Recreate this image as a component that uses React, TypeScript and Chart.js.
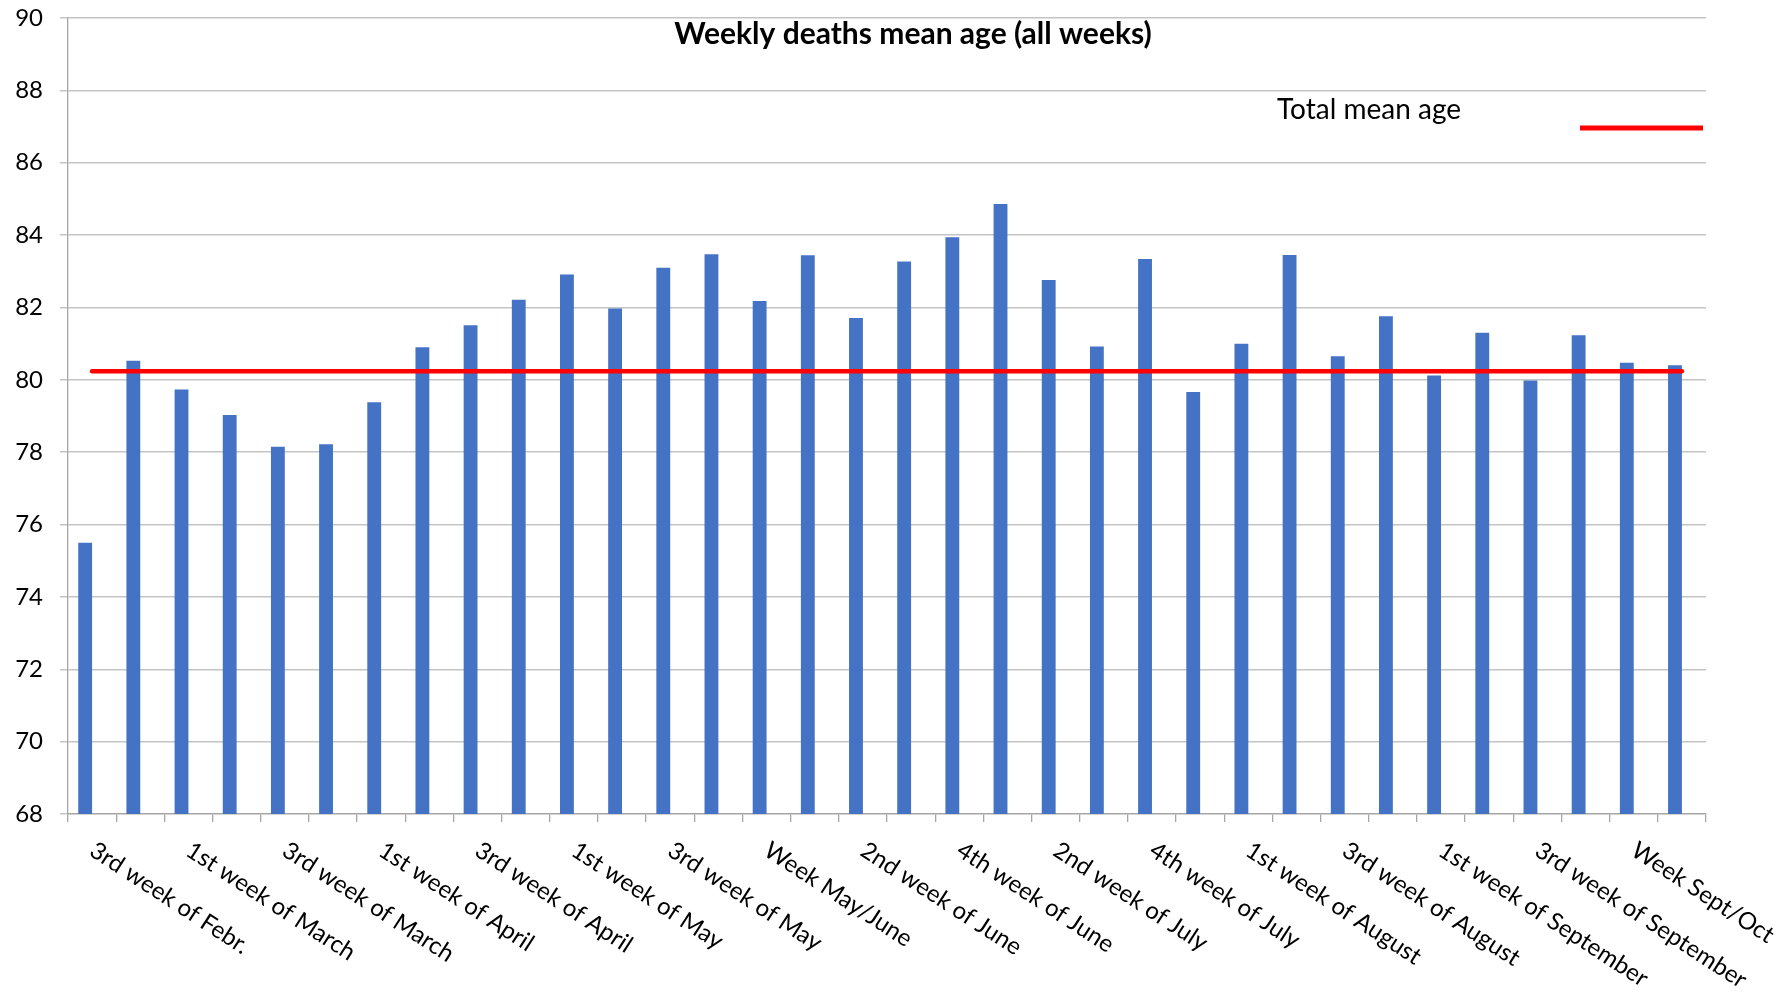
import { useEffect, useRef } from 'react';
import { Chart, registerables } from 'chart.js';

Chart.register(...registerables);

const TITLE = 'Weekly deaths mean age (all weeks)';
const LEGEND_LABEL = 'Total mean age';

const categories = [
  '3rd week of Febr.', '4th week of Febr.', '1st week of March', '2nd week of March',
  '3rd week of March', '4th week of March', '1st week of April', '2nd week of April',
  '3rd week of April', '4th week of April', '1st week of May', '2nd week of May',
  '3rd week of May', '4th week of May', 'Week May/June', '1st week of June',
  '2nd week of June', '3rd week of June', '4th week of June', '1st week of July',
  '2nd week of July', '3rd week of July', '4th week of July', '5th week of July',
  '1st week of August', '2nd week of August', '3rd week of August', '4th week of August',
  '1st week of September', '2nd week of September', '3rd week of September', '4th week of September',
  'Week Sept/Oct', '1st week of October',
];

const meanAge = [
  75.5, 80.53, 79.73, 79.03, 78.15, 78.22, 79.38, 80.9, 81.51, 82.21,
  82.91, 81.97, 83.1, 83.47, 82.18, 83.44, 81.71, 83.27, 83.94, 84.86,
  82.76, 80.92, 83.34, 79.66, 81.0, 83.45, 80.65, 81.76, 80.12, 81.3,
  79.98, 81.23, 80.47, 80.4,
];

const totalMeanAge = [
  80.24, 80.24, 80.24, 80.24, 80.24, 80.24, 80.24, 80.24, 80.24, 80.24,
  80.24, 80.24, 80.24, 80.24, 80.24, 80.24, 80.24, 80.24, 80.24, 80.24,
  80.24, 80.24, 80.24, 80.24, 80.24, 80.24, 80.24, 80.24, 80.24, 80.24,
  80.24, 80.24, 80.24, 80.24,
];

const emptySeries = categories.map(() => null);

const Y_MIN = 68;
const Y_MAX = 90;
const Y_STEP = 2;

const FONT = 'Lato, "Open Sans", sans-serif';
const LABEL_SIZE = 24;
const TICK_SIZE = 24;
const TITLE_SIZE = 30;
const LEGEND_SIZE = 28;
const LABEL_ANGLE = 33;

const overlayPlugin = {
  id: 'overlay',
  afterDraw(chart: any) {
    const ctx = chart.ctx as CanvasRenderingContext2D;
    const xs = chart.scales.x;
    const area = chart.chartArea;
    ctx.save();
    // category labels (every other week)
    ctx.fillStyle = '#000';
    ctx.font = `${LABEL_SIZE}px ${FONT}`;
    ctx.textAlign = 'left';
    ctx.textBaseline = 'middle';
    categories.forEach((label, i) => {
      if (i % 2 !== 0) return;
      const px = xs.getPixelForValue(i);
      ctx.save();
      ctx.translate(px, area.bottom + 34);
      ctx.rotate((LABEL_ANGLE * Math.PI) / 180);
      ctx.fillText(label, 0, 0);
      ctx.restore();
    });
    // title
    ctx.font = `bold ${TITLE_SIZE}px ${FONT}`;
    ctx.textAlign = 'center';
    ctx.textBaseline = 'alphabetic';
    ctx.fillText(TITLE, chart.width / 2 + 21, 44);
    // legend
    ctx.font = `${LEGEND_SIZE}px ${FONT}`;
    ctx.textAlign = 'left';
    ctx.fillText(LEGEND_LABEL, area.right - 429, 118.5);
    ctx.strokeStyle = '#FF0000';
    ctx.lineWidth = 5;
    ctx.lineCap = 'butt';
    ctx.beginPath();
    ctx.moveTo(area.right - 126, 128);
    ctx.lineTo(area.right - 3, 128);
    ctx.stroke();
    ctx.restore();
  },
};

export default function App() {
  const ref = useRef<HTMLCanvasElement | null>(null);
  useEffect(() => {
    if (!ref.current) return;
    const chart = new Chart(ref.current, {
      type: 'bar',
      data: {
        labels: categories,
        datasets: [
          {
            type: 'bar',
            label: 'Mean age',
            data: meanAge,
            backgroundColor: '#4472C4',
            borderWidth: 0,
            categoryPercentage: 0.575,
            barPercentage: 1,
            order: 1,
          },
          {
            type: 'bar',
            label: '',
            data: emptySeries,
            backgroundColor: 'rgba(0,0,0,0)',
            categoryPercentage: 0.575,
            barPercentage: 1,
            order: 1,
          },
          {
            type: 'line',
            label: LEGEND_LABEL,
            data: totalMeanAge,
            borderColor: '#FF0000',
            borderWidth: 4.5,
            borderCapStyle: 'round',
            pointRadius: 0,
            fill: false,
            order: 0,
          },
        ],
      } as any,
      options: {
        animation: false,
        responsive: true,
        maintainAspectRatio: false,
        layout: { padding: { left: 0, top: 18, right: 78, bottom: 175 } },
        plugins: {
          legend: { display: false },
          title: { display: false },
          tooltip: { enabled: false },
        },
        scales: {
          x: {
            offset: true,
            ticks: { display: false },
            grid: {
              offset: true,
              drawOnChartArea: false,
              drawTicks: true,
              tickLength: 8,
              color: '#A6A6A6',
              lineWidth: 1.3,
            },
            border: { display: true, color: '#A6A6A6', width: 1.3 },
          },
          y: {
            min: Y_MIN,
            max: Y_MAX,
            afterFit: (s: any) => {
              s.width = 68;
              s.paddingTop = 0;
              s.paddingBottom = 0;
            },
            ticks: {
              stepSize: Y_STEP,
              padding: 17,
              color: '#000',
              font: { family: FONT, size: TICK_SIZE },
            },
            grid: {
              color: '#C4C4C4',
              lineWidth: 1.5,
              tickLength: 8,
              drawTicks: true,
            },
            border: { display: true, color: '#A6A6A6', width: 1.3 },
          },
        },
      },
      plugins: [overlayPlugin],
    });
    return () => chart.destroy();
  }, []);
  return (
    <div style={{ position: 'absolute', left: 0, top: 0, width: 1784, height: 997, background: '#fff' }}>
      <canvas ref={ref} />
    </div>
  );
}
